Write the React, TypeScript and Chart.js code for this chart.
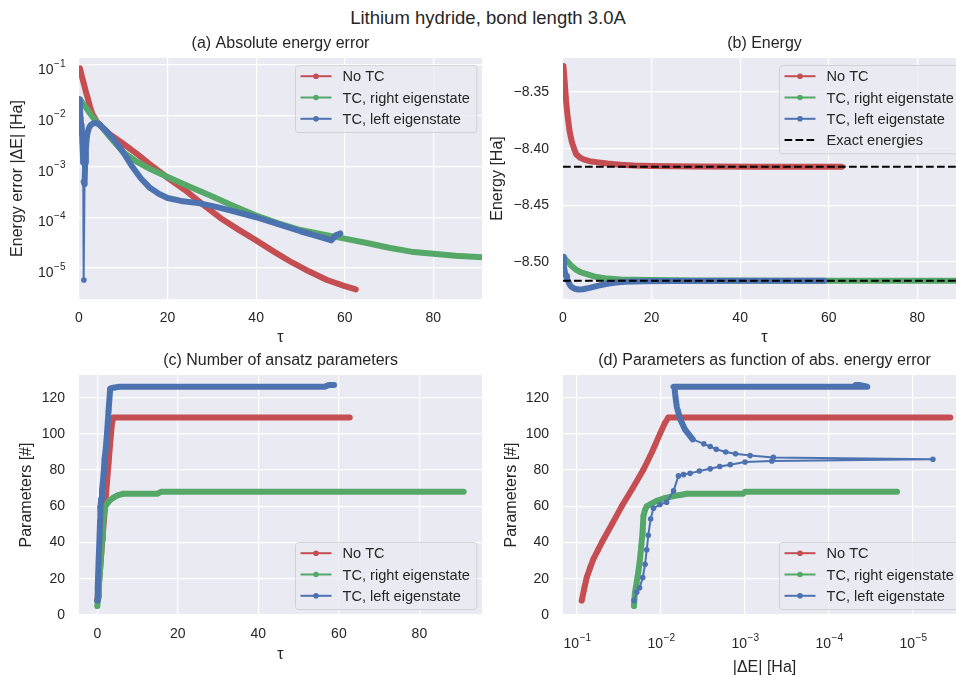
import React, { useEffect, useRef } from "react";
import { Chart, registerables } from "chart.js";

Chart.register(...registerables);

// ---------- text ----------
const SUPTITLE = "Lithium hydride, bond length 3.0A";
const TITLES = ["(a) Absolute energy error", "(b) Energy", "(c) Number of ansatz parameters", "(d) Parameters as function of abs. energy error"];
const SERIES_LABELS = ["No TC", "TC, right eigenstate", "TC, left eigenstate"];
const EXACT_LABEL = "Exact energies";
const X_TAU = "τ";
const Y_ERR = "Energy error |ΔE| [Ha]";
const Y_ENERGY = "Energy [Ha]";
const Y_PARAMS = "Parameters [#]";
const X_ERR = "|ΔE| [Ha]";

// ---------- ticks ----------
const TAU_TICKS = [0, 20, 40, 60, 80];
const LOG_TICKS = [1e-5, 1e-4, 1e-3, 1e-2, 1e-1];
const ENERGY_TICKS = [-8.5, -8.45, -8.4, -8.35];
const PARAM_TICKS = [0, 20, 40, 60, 80, 100, 120];

// ---------- (a) absolute energy error vs tau ----------
const A_TAU_RED = [0.2, 0.6, 1, 1.5, 2, 2.5, 3, 4, 5, 7, 10, 13, 16, 20, 24, 28, 32, 36, 40, 44, 48, 52, 56, 60, 62.5];
const A_ERR_RED = [0.086, 0.062, 0.046, 0.031, 0.022, 0.015, 0.011, 0.0077, 0.0062, 0.0043, 0.0028, 0.0018, 0.0011, 0.0006, 0.00034, 0.000178, 0.000096, 0.000057, 0.000035, 0.000021, 0.000013, 0.0000085, 0.0000058, 0.0000044, 0.0000038];
const A_TAU_GREEN = [0.2, 1, 2, 3, 4, 5, 7, 10, 13, 16, 20, 25, 30, 35, 40, 45, 50, 55, 60, 65, 70, 75, 80, 85, 91];
const A_ERR_GREEN = [0.021, 0.017, 0.0128, 0.0096, 0.0075, 0.0062, 0.0038, 0.0019, 0.00125, 0.0009, 0.00062, 0.0004, 0.00026, 0.000165, 0.000108, 0.000076, 0.000056, 0.000046, 0.000038, 0.000031, 0.000025, 0.000021, 0.000019, 0.0000175, 0.0000163];
const A_TAU_BLUE = [0.05, 0.2, 0.35, 0.5, 0.6, 0.7, 0.8, 0.9, 0.95, 1.0, 1.1, 1.25, 1.4, 1.55, 1.7, 1.9, 2.2, 2.6, 3.2, 3.8, 4.5, 6, 8, 10, 12, 14, 16, 18, 20, 23, 27, 31, 35, 40, 45, 50, 54, 57, 58, 59];
const A_ERR_BLUE = [0.021, 0.013, 0.009, 0.0065, 0.0054, 0.0042, 0.003, 0.002, 0.0012, 0.0005, 0.0000058, 0.00045, 0.0012, 0.0022, 0.0033, 0.0045, 0.0056, 0.0065, 0.0071, 0.0072, 0.0068, 0.0052, 0.0033, 0.0019, 0.001, 0.00058, 0.00038, 0.00029, 0.00024, 0.00021, 0.00019, 0.00016, 0.00013, 0.0001, 0.000073, 0.000053, 0.000042, 0.000035, 0.000044, 0.000048];

// ---------- (b) energy vs tau ----------
const B_TAU_RED = [0.1, 0.4, 0.7, 1, 1.5, 2, 2.5, 3, 4, 5, 6, 8, 10, 13, 16, 20, 30, 45, 63];
const B_E_RED = [-8.327, -8.342, -8.358, -8.37, -8.385, -8.394, -8.4, -8.405, -8.4083, -8.4099, -8.411, -8.4121, -8.4131, -8.4141, -8.4148, -8.4153, -8.4158, -8.4159, -8.4159];
const B_TAU_GREEN = [0.1, 0.5, 1, 2, 3, 4, 5, 7, 10, 13, 16, 20, 30, 50, 70, 91];
const B_E_GREEN = [-8.4955, -8.4975, -8.4995, -8.5037, -8.5069, -8.509, -8.5103, -8.5127, -8.5146, -8.5153, -8.5156, -8.5159, -8.5162, -8.5164, -8.5165, -8.5165];
const B_TAU_BLUE = [0.05, 0.2, 0.35, 0.5, 0.7, 0.9, 1.1, 1.3, 1.6, 2, 2.6, 3.5, 4.5, 6, 8, 10, 12, 14, 18, 25, 40, 59];
const B_E_BLUE = [-8.4955, -8.5035, -8.5075, -8.51, -8.5123, -8.5145, -8.5165, -8.518, -8.5205, -8.5222, -8.5235, -8.5242, -8.524, -8.5228, -8.5208, -8.5192, -8.518, -8.5174, -8.5169, -8.5167, -8.5166, -8.5166];
const EXACT_ENERGIES = [-8.4159, -8.5165];
const EXACT_TAU_RANGE = [0, 91];

// ---------- (c) parameters vs tau ----------
const C_TAU_RED = [0, 0.3, 0.75, 1.2, 1.6, 2.0, 2.4, 2.8, 3.2, 3.65, 4.0, 10, 20, 30, 40, 50, 62.7];
const C_PAR_RED = [8, 15, 27, 40, 51, 62, 73, 84, 95, 106, 109, 109, 109, 109, 109, 109, 109];
const C_TAU_GREEN = [0, 0.2, 0.4, 0.6, 0.8, 1.0, 1.2, 1.4, 1.6, 2.0, 2.6, 3.2, 4, 5, 6.5, 8, 12, 15, 15.8, 20, 40, 60, 80, 91];
const C_PAR_GREEN = [5, 10, 16, 22, 29, 35, 42, 48, 55, 60, 62, 63.5, 64.8, 66, 67, 67, 67, 67, 68, 68, 68, 68, 68, 68];
const C_TAU_BLUE = [0, 0.1, 0.33, 0.58, 0.68, 0.75, 0.95, 1.16, 1.4, 1.57, 1.8, 2.1, 2.4, 2.8, 3.2, 4, 5.5, 10, 20, 30, 40, 50, 56.5, 57.5, 58.8];
const C_PAR_BLUE = [8, 15, 30, 44.7, 52, 59.5, 64, 68.6, 74, 77.9, 86, 92, 100, 113, 125, 125.5, 126, 126, 126, 126, 126, 126, 126, 127, 127];

// ---------- (d) parameters vs |dE| ----------
const D_ERR_RED = [0.088, 0.0826, 0.0767, 0.07, 0.064, 0.0562, 0.0508, 0.0386, 0.0294, 0.0218, 0.0163, 0.0128, 0.0103, 0.009, 0.0082, 0.008, 0.003, 0.001, 0.0003, 0.0001, 0.00003, 0.00001, 0.0000036];
const D_PAR_RED = [8, 14, 20.7, 26, 30.8, 36, 40, 50, 60, 70, 80, 90, 100, 106, 109, 109, 109, 109, 109, 109, 109, 109, 109];
const D_ERR_GREEN = [0.021, 0.0205, 0.0195, 0.0185, 0.0178, 0.0172, 0.0166, 0.0162, 0.0155, 0.0148, 0.013, 0.0113, 0.009, 0.0071, 0.0055, 0.0049, 0.003, 0.00105, 0.001, 0.0005, 0.0001, 0.00005, 0.0000155];
const D_PAR_GREEN = [5, 12, 18, 25, 31, 38, 45.7, 54.7, 58, 60, 61.5, 63, 64.5, 65.7, 66.5, 67, 67, 67, 68, 68, 68, 68, 68];
const D_ERR_BLUE = [0.021, 0.0195, 0.018, 0.0165, 0.0155, 0.0148, 0.0142, 0.0133, 0.0123, 0.0103, 0.0086, 0.0071, 0.0062, 0.0054, 0.0045, 0.0035, 0.0026, 0.002, 0.0015, 0.001, 0.00048, 0.0000058, 0.00046, 0.00087, 0.0013, 0.0017, 0.0022, 0.0026, 0.0031, 0.0042, 0.0052, 0.0059, 0.0065, 0.0068, 0.0069, 0.0071, 0.005, 0.002, 0.0005, 0.0001, 0.00004, 0.000035, 0.000044, 0.000048];
const D_PAR_BLUE = [8, 12.5, 15, 20.7, 28, 36, 44, 53, 59, 61, 62.3, 68.5, 76.8, 77.5, 78.2, 79.5, 80.7, 82, 83, 84.5, 85, 86, 87, 88, 89, 90, 91.5, 93, 94.5, 97, 102.5, 108, 115, 122, 125.5, 126, 126, 126, 126, 126, 126, 126, 127, 127];

// ---------- style ----------
const FONT = "'Liberation Sans', Arial, Helvetica, sans-serif";
const TXT = "#262626";
const RED = "#C44E52";
const GREEN = "#55A868";
const BLUE = "#4C72B0";
const BG = "#EAEAF2";
const TICK_SIZE = 14;
const EXP_SIZE = 10;
const LABEL_SIZE = 16;
const LEGEND_SIZE = 14.6;
const THICK = 6;
const THIN = 2;
const DOT = 2.8;

const plainLabel = (v: number) => String(Math.round(v));
const energyLabel = (v: number) => v.toFixed(2).replace("-", "−");
const expLabel = (v: number) => String(Math.round(Math.log10(v))).replace("-", "−");

const pts = (xs: number[], ys: number[]) => xs.map((x, i) => ({ x, y: ys[i] }));
const inRange = (r: number[] | null, i: number) => !!r && i >= r[0] && i < r[1];

function series(xs: number[], ys: number[], color: string, order: number, thin: number[] | null, dots: number[] | null) {
  return {
    data: pts(xs, ys),
    borderColor: color,
    backgroundColor: color,
    borderWidth: THICK,
    borderCapStyle: "round",
    borderJoinStyle: "round",
    pointRadius: (c: any) => (inRange(dots, c.dataIndex) ? DOT : 0),
    pointBackgroundColor: color,
    pointBorderWidth: 0,
    pointHoverRadius: 0,
    tension: 0,
    fill: false,
    clip: 0,
    order,
    segment: { borderWidth: (c: any) => (inRange(thin, c.p0DataIndex) ? THIN : THICK) },
  };
}

function exactLine(y: number) {
  return {
    data: pts(EXACT_TAU_RANGE, [y, y]),
    borderColor: "#000000",
    borderWidth: 2,
    borderDash: [7.7, 3.3],
    pointRadius: 0,
    pointHoverRadius: 0,
    fill: false,
    clip: 0,
    order: 0,
  };
}

const bgPlugin = {
  id: "plotBg",
  beforeDraw(chart: any) {
    const { ctx, chartArea: a } = chart;
    ctx.save();
    ctx.fillStyle = BG;
    ctx.fillRect(a.left, a.top, a.right - a.left, a.bottom - a.top);
    ctx.restore();
  },
};

// draws "10" with a raised exponent for the logarithmic axes
const mathTickPlugin = {
  id: "mathTicks",
  afterDraw(chart: any) {
    const { ctx, chartArea: a } = chart;
    ["x", "y"].forEach((id) => {
      const sc = chart.scales[id];
      if (!sc || sc.type !== "logarithmic") return;
      ctx.save();
      ctx.fillStyle = TXT;
      ctx.textBaseline = "alphabetic";
      ctx.textAlign = "left";
      sc.ticks.forEach((t: any) => {
        const p = sc.getPixelForValue(t.value);
        const exp = expLabel(t.value);
        ctx.font = `${TICK_SIZE}px ${FONT}`;
        const wb = ctx.measureText("10").width;
        ctx.font = `${EXP_SIZE}px ${FONT}`;
        const we = ctx.measureText(exp).width;
        let x0: number, base: number;
        if (id === "y") {
          x0 = a.left - 14 - we - wb;
          base = p + 9;
        } else {
          x0 = p - (wb + we) / 2;
          base = a.bottom + 33;
        }
        ctx.font = `${TICK_SIZE}px ${FONT}`;
        ctx.fillText("10", x0, base);
        ctx.font = `${EXP_SIZE}px ${FONT}`;
        ctx.fillText(exp, x0 + wb + 0.5, base - 7.5);
      });
      ctx.restore();
    });
  },
};

const legendPlugin = {
  id: "insideLegend",
  afterDraw(chart: any, _args: any, opts: any) {
    const items = opts && opts.items;
    if (!items || !items.length) return;
    const { ctx, chartArea: a } = chart;
    ctx.save();
    ctx.font = `${LEGEND_SIZE}px ${FONT}`;
    const tw = Math.max(...items.map((it: any) => ctx.measureText(it.label).width));
    const w = 5 + 31 + 11 + tw + 7;
    const rowH = 21.3;
    const h = 10.7 + rowH * (items.length - 1) + 13.7;
    const x = Math.round(a.right - 6 - w) + 0.5;
    const y = Math.round(opts.corner === "br" ? a.bottom - 6 - h : a.top + 7) + 0.5;
    ctx.beginPath();
    if (ctx.roundRect) ctx.roundRect(x, y, w, h, 3);
    else ctx.rect(x, y, w, h);
    ctx.fillStyle = "rgba(234,234,242,0.8)";
    ctx.fill();
    ctx.strokeStyle = "rgba(204,204,204,0.8)";
    ctx.lineWidth = 1;
    ctx.stroke();
    items.forEach((it: any, i: number) => {
      const cy = y + 10.7 + rowH * i;
      ctx.beginPath();
      ctx.setLineDash(it.dashed ? [7.7, 3.3] : []);
      ctx.strokeStyle = it.color;
      ctx.lineWidth = 2;
      ctx.moveTo(x + 5, cy);
      ctx.lineTo(x + 36, cy);
      ctx.stroke();
      ctx.setLineDash([]);
      if (!it.dashed) {
        ctx.beginPath();
        ctx.arc(x + 20.5, cy, DOT, 0, Math.PI * 2);
        ctx.fillStyle = it.color;
        ctx.fill();
      }
      ctx.fillStyle = TXT;
      ctx.textBaseline = "middle";
      ctx.textAlign = "left";
      ctx.fillText(it.label, x + 47, cy + 1);
    });
    ctx.restore();
  },
};

const LEGEND3 = [
  { label: SERIES_LABELS[0], color: RED },
  { label: SERIES_LABELS[1], color: GREEN },
  { label: SERIES_LABELS[2], color: BLUE },
];
const LEGEND4 = [...LEGEND3, { label: EXACT_LABEL, color: "#000000", dashed: true }];

function axis(o: any) {
  const isX = o.pos === "x";
  const isLog = o.type === "logarithmic";
  return {
    type: o.type,
    position: isX ? "bottom" : "left",
    min: o.min,
    max: o.max,
    reverse: !!o.reverse,
    afterBuildTicks: (ax: any) => {
      ax.ticks = o.ticks.map((v: number) => ({ value: v }));
    },
    afterFit: (ax: any) => {
      if (isX) ax.height = o.size;
      else ax.width = o.size;
    },
    ticks: {
      display: !isLog,
      callback: (v: any) => (o.fmt ? o.fmt(Number(v)) : ""),
      color: TXT,
      font: { family: FONT, size: TICK_SIZE },
      padding: o.pad,
      autoSkip: false,
      maxRotation: 0,
      minRotation: 0,
    },
    grid: { color: "#FFFFFF", lineWidth: 1.2, drawTicks: false },
    border: { display: false },
    title: {
      display: true,
      text: o.title,
      color: TXT,
      font: { family: FONT, size: LABEL_SIZE },
      padding: isX ? { top: 0, bottom: o.titlePad } : { top: o.titlePad, bottom: 0 },
    },
  };
}

function config(o: any) {
  return {
    type: "line",
    data: { datasets: o.datasets },
    plugins: [bgPlugin, mathTickPlugin, legendPlugin],
    options: {
      responsive: false,
      maintainAspectRatio: false,
      animation: false,
      devicePixelRatio: 1,
      events: [],
      layout: { padding: { left: 0, right: o.padRight, top: 0, bottom: 0 } },
      plugins: {
        legend: { display: false },
        tooltip: { enabled: false },
        title: {
          display: true,
          text: o.title,
          color: TXT,
          fullSize: false,
          font: { family: FONT, size: LABEL_SIZE, weight: "normal" },
          padding: o.titlePad,
        },
        insideLegend: { items: o.legend, corner: o.corner },
      },
      scales: { x: axis({ ...o.x, pos: "x" }), y: axis({ ...o.y, pos: "y" }) },
    },
  };
}

const buildA = () =>
  config({
    title: TITLES[0],
    titlePad: { top: 4.4, bottom: 4.4 },
    padRight: 8,
    legend: LEGEND3,
    corner: "tr",
    datasets: [
      series(A_TAU_RED, A_ERR_RED, RED, 3, null, null),
      series(A_TAU_GREEN, A_ERR_GREEN, GREEN, 2, null, null),
      series(A_TAU_BLUE, A_ERR_BLUE, BLUE, 1, [8, 11], [0, 13]),
    ],
    x: { type: "linear", min: 0, max: 91, ticks: TAU_TICKS, fmt: plainLabel, pad: 11, size: 51, title: X_TAU, titlePad: 2.4 },
    y: { type: "logarithmic", min: 2.45e-6, max: 0.1374, ticks: LOG_TICKS, pad: 14, size: 79, title: Y_ERR, titlePad: 8.4 },
  });

const buildB = () =>
  config({
    title: TITLES[1],
    titlePad: { top: 4.4, bottom: 4.4 },
    padRight: 10,
    legend: LEGEND4,
    corner: "tr",
    datasets: [
      series(B_TAU_RED, B_E_RED, RED, 3, null, null),
      series(B_TAU_GREEN, B_E_GREEN, GREEN, 2, null, null),
      series(B_TAU_BLUE, B_E_BLUE, BLUE, 1, null, null),
      exactLine(EXACT_ENERGIES[0]),
      exactLine(EXACT_ENERGIES[1]),
    ],
    x: { type: "linear", min: 0, max: 91, ticks: TAU_TICKS, fmt: plainLabel, pad: 11, size: 51, title: X_TAU, titlePad: 2.4 },
    y: { type: "linear", min: -8.5326, max: -8.32, ticks: ENERGY_TICKS, fmt: energyLabel, pad: 14, size: 83, title: Y_ENERGY, titlePad: 8.4 },
  });

const buildC = () =>
  config({
    title: TITLES[2],
    titlePad: { top: 1.4, bottom: 4.4 },
    padRight: 8,
    legend: LEGEND3,
    corner: "br",
    datasets: [
      series(C_TAU_RED, C_PAR_RED, RED, 3, null, [0, 11]),
      series(C_TAU_GREEN, C_PAR_GREEN, GREEN, 2, null, [0, 15]),
      series(C_TAU_BLUE, C_PAR_BLUE, BLUE, 1, null, [0, 15]),
    ],
    x: { type: "linear", min: -4.55, max: 95.55, ticks: TAU_TICKS, fmt: plainLabel, pad: 11, size: 62, title: X_TAU, titlePad: 12.4 },
    y: { type: "linear", min: 0, max: 132.5, ticks: PARAM_TICKS, fmt: plainLabel, pad: 14, size: 79, title: Y_PARAMS, titlePad: 17.4 },
  });

const buildD = () =>
  config({
    title: TITLES[3],
    titlePad: { top: 1.4, bottom: 4.4 },
    padRight: 10,
    legend: LEGEND3,
    corner: "br",
    datasets: [
      series(D_ERR_RED, D_PAR_RED, RED, 3, null, [0, 15]),
      series(D_ERR_GREEN, D_PAR_GREEN, GREEN, 2, null, [0, 16]),
      series(D_ERR_BLUE, D_PAR_BLUE, BLUE, 1, [0, 29], [0, 31]),
    ],
    x: { type: "logarithmic", reverse: true, min: 2.34e-6, max: 0.147, ticks: LOG_TICKS, pad: 17, size: 62, title: X_ERR, titlePad: 0 },
    y: { type: "linear", min: 0, max: 132.5, ticks: PARAM_TICKS, fmt: plainLabel, pad: 14, size: 83, title: Y_PARAMS, titlePad: 21.9 },
  });

function ChartCanvas(props: { left: number; top: number; width: number; height: number; build: () => any }) {
  const ref = useRef<HTMLCanvasElement | null>(null);
  useEffect(() => {
    const chart = new Chart(ref.current as HTMLCanvasElement, props.build());
    return () => chart.destroy();
  }, []);
  return (
    <canvas
      ref={ref}
      width={props.width}
      height={props.height}
      style={{ position: "absolute", left: props.left, top: props.top, width: props.width, height: props.height }}
    />
  );
}

export default function App() {
  return (
    <div style={{ position: "fixed", left: 0, top: 0, width: 956, height: 677, overflow: "hidden", background: "#ffffff" }}>
      <div
        style={{
          position: "absolute",
          left: 0,
          top: 8,
          width: 976,
          textAlign: "center",
          fontFamily: FONT,
          fontSize: 18.5,
          lineHeight: "20px",
          color: TXT,
        }}
      >
        {SUPTITLE}
      </div>
      <ChartCanvas left={0} top={30} width={490} height={320} build={buildA} />
      <ChartCanvas left={480} top={30} width={496} height={320} build={buildB} />
      <ChartCanvas left={0} top={350} width={490} height={327} build={buildC} />
      <ChartCanvas left={480} top={350} width={496} height={327} build={buildD} />
    </div>
  );
}
